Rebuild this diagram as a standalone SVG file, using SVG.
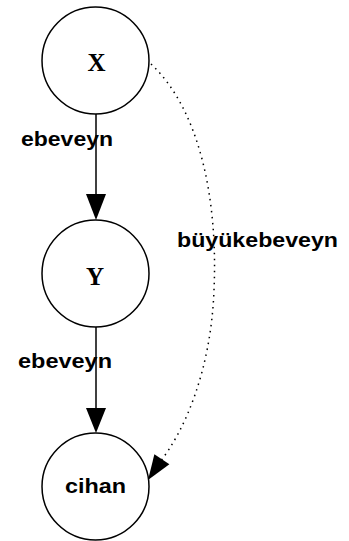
<svg xmlns="http://www.w3.org/2000/svg" width="349" height="541" viewBox="0 0 349 541">
<style>
.node{fill:#fff;stroke:#000;stroke-width:1.5}
.lbl{font-family:"Liberation Sans",Arial,sans-serif;font-weight:bold;font-size:21px;fill:#000}
.ser{font-family:"Liberation Serif","Times New Roman",serif;font-weight:bold;font-size:25px;fill:#000}
.edge{fill:none;stroke:#000;stroke-width:1.5}
.dot{fill:none;stroke:#000;stroke-width:1.5;stroke-dasharray:1.5 4.5}
</style>
<rect width="349" height="541" fill="#fff"/>
<g id="connectors">
<line class="edge" x1="96" y1="114" x2="96" y2="196"/>
<polygon points="86,194 106,194 96,220"/>
<line class="edge" x1="96" y1="327" x2="96" y2="410"/>
<polygon points="86,408 106,408 96,433"/>
<path class="dot" d="M151,64 C200,110 218,200 214,290 C211,370 185,430 160,462"/>
<polygon points="148,480 154.4,454.2 169.4,464.2"/>
<text class="lbl" x="21" y="146" textLength="92" lengthAdjust="spacingAndGlyphs">ebeveyn</text>
<text class="lbl" x="18" y="368" textLength="94" lengthAdjust="spacingAndGlyphs">ebeveyn</text>
<text class="lbl" x="177" y="247" textLength="161" lengthAdjust="spacingAndGlyphs">büyükebeveyn</text>
</g>
<g id="X">
<circle class="node" cx="95.5" cy="60.5" r="53.5"/>
<text class="ser" x="96.5" y="70.5" text-anchor="middle">X</text>
</g>
<g id="Y">
<circle class="node" cx="95.5" cy="273.5" r="53.5"/>
<text class="ser" x="95" y="285" text-anchor="middle">Y</text>
</g>
<g id="cihan">
<circle class="node" cx="95.5" cy="486.5" r="53.5"/>
<text class="lbl" x="65" y="492.5" textLength="61" lengthAdjust="spacingAndGlyphs">cihan</text>
</g>
</svg>
